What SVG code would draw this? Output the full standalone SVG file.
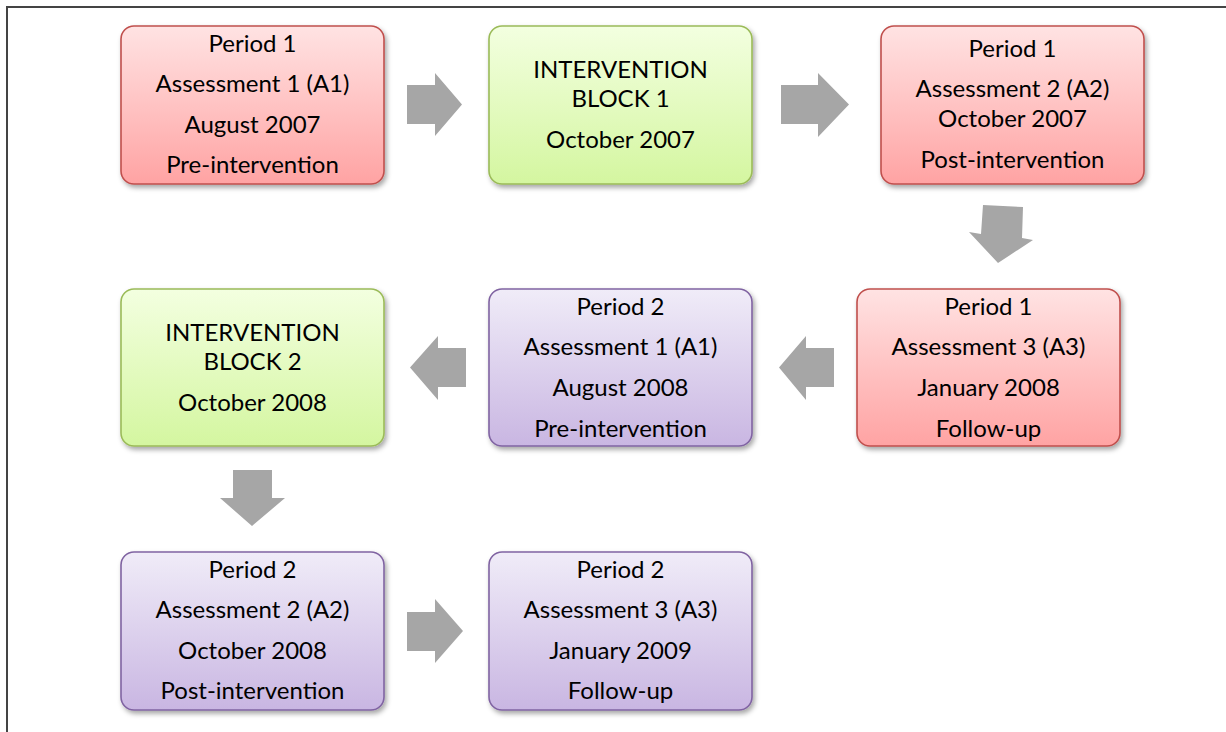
<svg xmlns="http://www.w3.org/2000/svg" width="1226" height="732" viewBox="0 0 1226 732">
<defs>
<linearGradient id="gRed" x1="0" y1="0" x2="0" y2="1"><stop offset="0" stop-color="#FFE3E3"/><stop offset="1" stop-color="#FFA3A3"/></linearGradient>
<linearGradient id="gGreen" x1="0" y1="0" x2="0" y2="1"><stop offset="0" stop-color="#F3FFE0"/><stop offset="1" stop-color="#D4F6A0"/></linearGradient>
<linearGradient id="gPurple" x1="0" y1="0" x2="0" y2="1"><stop offset="0" stop-color="#F0ECF8"/><stop offset="1" stop-color="#C9B6E2"/></linearGradient>
<filter id="sh" x="-10%" y="-10%" width="125%" height="130%"><feDropShadow dx="2" dy="3" stdDeviation="2.5" flood-color="#000" flood-opacity="0.35"/></filter>
</defs>
<style>
.box{stroke-width:1.6;filter:url(#sh)}
.red{fill:url(#gRed);stroke:#C0504D}
.green{fill:url(#gGreen);stroke:#9BBB59}
.purple{fill:url(#gPurple);stroke:#8064A2}
text{font-family:Lato,"Open Sans","Liberation Sans",sans-serif;font-size:24px;fill:#000;text-anchor:middle}
.arrow{fill:#A6A6A6}
</style>
<rect x="0" y="0" width="1226" height="732" fill="#fff"/>
<rect x="7" y="7" width="1240" height="760" fill="none" stroke="#444" stroke-width="2"/>

<g id="n1"><rect class="box red" x="121" y="26" width="263" height="158" rx="13"/>
<text x="252.5" y="52">Period 1</text><text x="252.5" y="92">Assessment 1 (A1)</text><text x="252.5" y="133">August 2007</text><text x="252.5" y="173">Pre-intervention</text></g>

<g id="n2"><rect class="box green" x="489" y="26" width="263" height="158" rx="13"/>
<text x="620.5" y="78">INTERVENTION</text><text x="620.5" y="107">BLOCK 1</text><text x="620.5" y="148">October 2007</text></g>

<g id="n3"><rect class="box red" x="881" y="26" width="263" height="158" rx="13"/>
<text x="1012.5" y="57">Period 1</text><text x="1012.5" y="97">Assessment 2 (A2)</text><text x="1012.5" y="127">October 2007</text><text x="1012.5" y="168">Post-intervention</text></g>

<g id="n4"><rect class="box red" x="857" y="289" width="263" height="157" rx="13"/>
<text x="988.5" y="315">Period 1</text><text x="988.5" y="355">Assessment 3 (A3)</text><text x="988.5" y="396">January 2008</text><text x="988.5" y="437">Follow-up</text></g>

<g id="n5"><rect class="box purple" x="489" y="289" width="263" height="157" rx="13"/>
<text x="620.5" y="315">Period 2</text><text x="620.5" y="355">Assessment 1 (A1)</text><text x="620.5" y="396">August 2008</text><text x="620.5" y="437">Pre-intervention</text></g>

<g id="n6"><rect class="box green" x="121" y="289" width="263" height="157" rx="13"/>
<text x="252.5" y="341">INTERVENTION</text><text x="252.5" y="370">BLOCK 2</text><text x="252.5" y="411">October 2008</text></g>

<g id="n7"><rect class="box purple" x="121" y="552" width="263" height="158" rx="13"/>
<text x="252.5" y="578">Period 2</text><text x="252.5" y="618">Assessment 2 (A2)</text><text x="252.5" y="659">October 2008</text><text x="252.5" y="699">Post-intervention</text></g>

<g id="n8"><rect class="box purple" x="489" y="552" width="263" height="158" rx="13"/>
<text x="620.5" y="578">Period 2</text><text x="620.5" y="618">Assessment 3 (A3)</text><text x="620.5" y="659">January 2009</text><text x="620.5" y="699">Follow-up</text></g>

<g id="connectors">
<polygon class="arrow" points="407,85 435,85 435,73 462,104.5 435,136 435,124 407,124"/>
<polygon class="arrow" points="781,85 818,85 818,73 849,104.5 818,137 818,124 781,124"/>
<polygon class="arrow" points="983,205 1023,207 1022,238 1033,240 998,263 969,232 981,234"/>
<polygon class="arrow" points="834,348 806,348 806,336 779,367.5 806,400 806,387 834,387"/>
<polygon class="arrow" points="466,348 438,348 438,336 410,367.5 438,400 438,387 466,387"/>
<polygon class="arrow" points="233,470 272,470 272,498 285,498 252,526 220,498 233,498"/>
<polygon class="arrow" points="407,612 435,612 435,599 463,631 435,663 435,651 407,651"/>
</g>
</svg>
